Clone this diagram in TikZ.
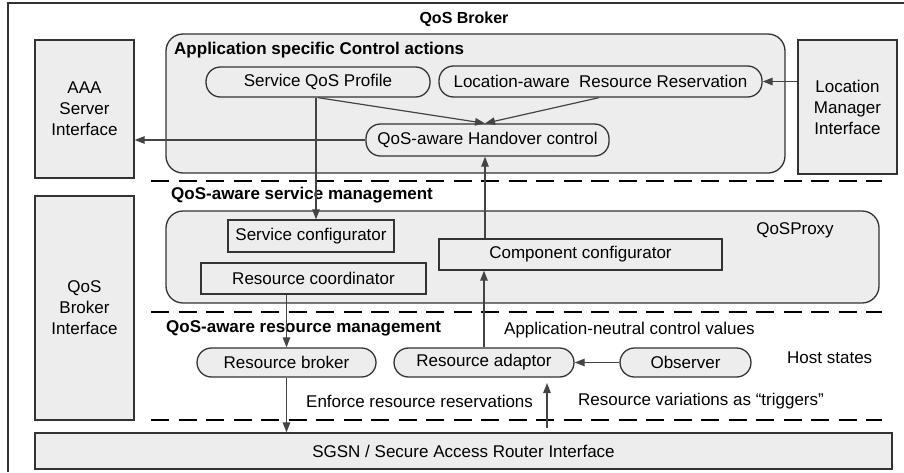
\documentclass[tikz,border=0pt]{standalone}
\usepackage{fontspec}
\setmainfont{Liberation Sans}
\usetikzlibrary{arrows.meta,calc}
\definecolor{boxfill}{HTML}{EDEDED}
\definecolor{edge}{HTML}{333333}
\definecolor{arrowc}{HTML}{444444}
\tikzset{
  base/.style={draw=edge, fill=boxfill, line width=1.3pt, inner sep=0pt,
    font=\fontsize{17}{21}\selectfont, align=center},
  sqbox/.style={base},
  pill/.style={base, rounded corners=14.5pt},
  group/.style={draw=edge, fill=boxfill, line width=1.3pt, rounded corners=17pt, inner sep=0pt},
  lbl/.style={font=\fontsize{17}{21}\selectfont, anchor=west, inner sep=0pt},
  blbl/.style={font=\bfseries\fontsize{17}{21}\selectfont, anchor=west, inner sep=0pt},
  sep/.style={draw=black, line width=2.8pt, dash pattern=on 18pt off 9.5pt},
  arr/.style={draw=arrowc, line width=1.2pt, -{Triangle[length=10pt,width=7.5pt]}},
}
\begin{document}
\begin{tikzpicture}[x=1pt,y=-1pt]
\useasboundingbox (0,0) rectangle (904,472);
% outer frame (clipped by page)
\draw[edge, line width=1.5pt] (8,472) -- (8,3) -- (904,3);
\node[font=\bfseries\fontsize{16}{20}\selectfont, inner sep=0pt] (title) at (464,19) {QoS Broker};

% side interfaces
\node[sqbox, minimum width=99pt, minimum height=138pt] (aaa) at (84.5,109) {AAA\\Server\\Interface};
\node[sqbox, minimum width=99pt, minimum height=224pt] (qbi) at (84.5,308) {QoS\\Broker\\Interface};
\node[sqbox, minimum width=99pt, minimum height=134pt] (lmi) at (847.5,107) {Location\\Manager\\Interface};

% application specific control actions
\node[group, minimum width=619pt, minimum height=139pt] (app) at (475.5,103.5) {};
\node[blbl] (apptitle) at (174,50) {Application specific Control actions};
\node[pill, minimum width=224pt, minimum height=30pt] (sqp) at (318,82) {Service QoS Profile};
\node[pill, minimum width=323pt, minimum height=31pt] (lar) at (600.5,81.5) {Location-aware\ \ Resource Reservation};
\node[pill, minimum width=243pt, minimum height=32pt] (ho) at (487.5,140) {QoS-aware Handover control};

\draw[sep] (151,181) -- (882,181);
\node[blbl] (svctitle) at (171,195) {QoS-aware service management};

% QoSProxy
\node[group, minimum width=713pt, minimum height=92pt] (proxy) at (522.5,257) {};
\node[lbl, anchor=center] (proxytitle) at (795,230) {QoSProxy};
\node[sqbox, minimum width=166pt, minimum height=32pt] (sc) at (311,236) {Service configurator};
\node[sqbox, minimum width=225pt, minimum height=31pt] (rc) at (313.5,278.5) {Resource coordinator};
\node[sqbox, minimum width=283pt, minimum height=31pt] (cc) at (580.5,254.5) {Component configurator};

\draw[sep] (151,312) -- (882,312);
\node[blbl] (restitle) at (166,328) {QoS-aware resource management};
\node[lbl] (acv) at (504,330) {Application-neutral control values};

\node[pill, minimum width=179pt, minimum height=29pt] (rb) at (286.5,362.5) {Resource broker};
\node[pill, minimum width=180pt, minimum height=29pt] (ra) at (484,362.5) {Resource adaptor};
\node[pill, minimum width=131pt, minimum height=29pt] (obs) at (685.5,362.5) {Observer};
\node[lbl] (hs) at (787,358) {Host states};
\node[lbl] (enf) at (306,401) {Enforce resource reservations};
\node[lbl] (rv) at (578,401) {Resource variations as “triggers”};

\draw[sep] (151,420) -- (882,420);
\node[sqbox, minimum width=857pt, minimum height=36pt] (sgsn) at (463.5,451) {SGSN / Secure Access Router Interface};

% connectors
\coordinate (hotop) at ($(ho.north)+(-2.5,0)$);
\coordinate (hobot) at ($(ho.south)+(-2.5,0)$);
\coordinate (sqpout) at ($(sqp.south)+(-2,0)$);
\coordinate (larout) at ($(lar.south)+(-1.5,0)$);
\draw[arr] (sqpout) -- (sqpout |- sc.north);
\draw[arr] (sqp.south) -- (hotop);
\draw[arr] (larout) -- (hotop);
\draw[arr] (ho.west) -- (ho.west -| aaa.east);
\draw[arr] (lmi.west |- lar.east) -- (lar.east);
\draw[arr] (hobot |- cc.north) -- (hobot);
\draw[arr] (rb.north |- rc.south) -- (rb.north);
\draw[arr] (rb.south) -- (rb.south |- sgsn.north);
\draw[arr] (ra.north) -- (ra.north |- cc.south);
\draw[arr] (obs.west) -- (ra.east);
\coordinate (trigfrom) at (547,428);
\coordinate (trigto) at (547,383);
\draw[arr] (trigfrom) -- (trigto);
\end{tikzpicture}
\end{document}
